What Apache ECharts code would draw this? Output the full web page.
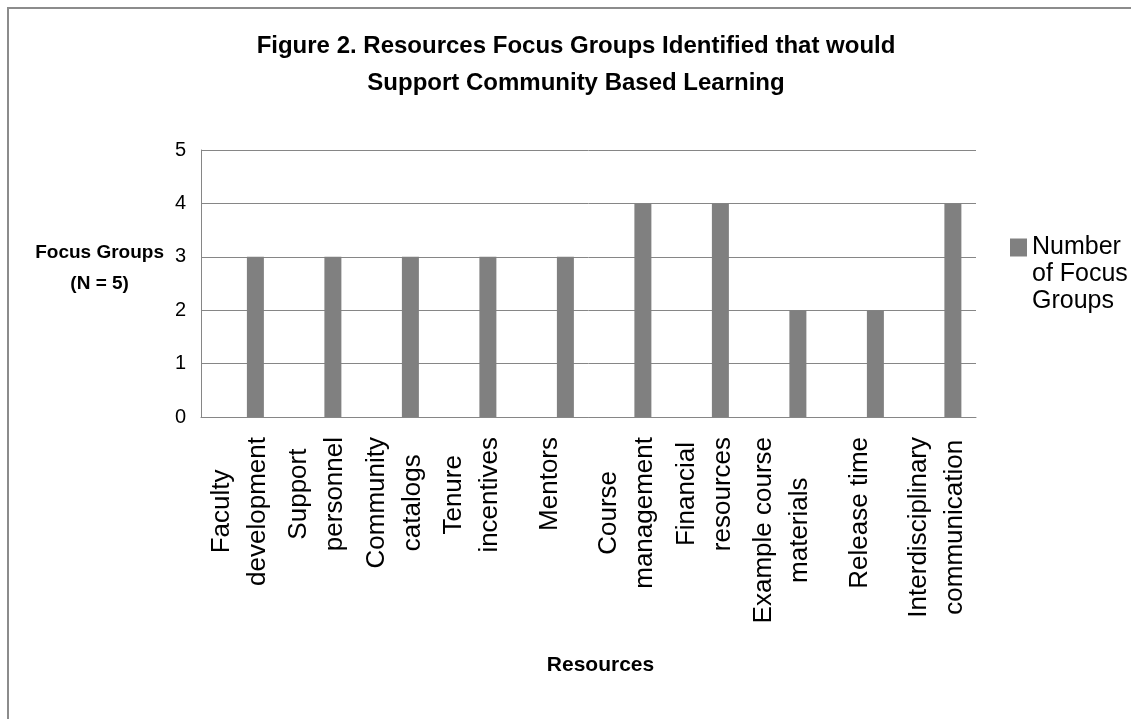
<!DOCTYPE html>
<html>
<head>
<meta charset="utf-8">
<title>Figure 2</title>
<script src="https://cdn.jsdelivr.net/npm/echarts@6/dist/echarts.min.js"></script>
<style>
  html, body { margin: 0; padding: 0; background: #fff; }
  #chart { width: 1131px; height: 719px; }
</style>
</head>
<body>
<div id="chart"></div>
<script>
// data
const categories = [
  'Faculty\ndevelopment',
  'Support\npersonnel',
  'Community\ncatalogs',
  'Tenure\nincentives',
  'Mentors',
  'Course\nmanagement',
  'Financial\nresources',
  'Example course\nmaterials',
  'Release time',
  'Interdisciplinary\ncommunication'
];
const focusGroups = [3, 3, 3, 3, 3, 4, 4, 2, 2, 4];
const emptySlot = categories.map(() => '-'); // excel left an empty slot before each bar
const seriesName = 'Number\nof Focus\nGroups';

const chart = echarts.init(document.getElementById('chart'));

const option = {
  animation: false,
  textStyle: { fontFamily: 'Liberation Sans, Arial, sans-serif', color: '#000' },
  title: {
    text: 'Figure 2. Resources Focus Groups Identified that would\nSupport Community Based Learning',
    left: 571,
    top: 23,
    textAlign: 'center',
    textStyle: {
      fontFamily: 'Liberation Sans, Arial, sans-serif',
      fontSize: 24,
      fontWeight: 'bold',
      lineHeight: 37,
      color: '#000'
    }
  },
  graphic: [{
    type: 'rect',
    shape: { x: 8, y: 8, width: 1300, height: 900 },
    style: { fill: 'none', stroke: '#8c8c8c', lineWidth: 2 },
    silent: true
  }],
  legend: {
    data: [seriesName],
    orient: 'vertical',
    left: 1005,
    top: 175,
    itemWidth: 17,
    itemHeight: 18,
    icon: 'rect',
    // two blank lines on top so the square sits beside the first line
    formatter: (name) => '\n\n' + name,
    textStyle: {
      fontSize: 25,
      lineHeight: 27,
      color: '#000'
    }
  },
  grid: {
    left: 201,
    right: 155,
    top: 150,
    bottom: 302,
    containLabel: false
  },
  xAxis: {
    type: 'category',
    data: categories,
    name: 'Resources',
    nameLocation: 'middle',
    nameGap: 238,
    nameTextStyle: {
      fontWeight: 'bold',
      fontSize: 21,
      color: '#000',
      padding: [0, 0, 0, 24]
    },
    axisLine: { lineStyle: { color: '#868686', width: 1 } },
    axisTick: { show: false },
    axisLabel: {
      interval: 0,
      rotate: 90,
      margin: 20,
      fontSize: 26,
      lineHeight: 36,
      color: '#000',
      formatter: (v) => v.split('\n').map(s => '{c|' + s + '}').join('\n'),
      rich: { c: { align: 'center', fontSize: 26, lineHeight: 36, color: '#000' } }
    }
  },
  yAxis: {
    type: 'value',
    min: 0,
    max: 5,
    interval: 1,
    name: '{n|Focus Groups}\n{n|(N = 5)}',
    nameLocation: 'middle',
    nameRotate: 0,
    nameGap: 37,
    nameTextStyle: {
      padding: [0, 0, 30, 0],
      rich: { n: { align: 'center', fontSize: 19, fontWeight: 'bold', lineHeight: 31, color: '#000' } }
    },
    axisLine: { show: true, lineStyle: { color: '#868686', width: 1 } },
    axisTick: { show: false },
    axisLabel: { fontSize: 20, margin: 15, color: '#000' },
    splitLine: { lineStyle: { color: '#868686', width: 1 } }
  },
  series: [
    {
      name: 'gap',
      type: 'bar',
      data: emptySlot,
      barWidth: 17,
      barGap: '84%',
      silent: true
    },
    {
      name: seriesName,
      type: 'bar',
      data: focusGroups,
      barWidth: 17,
      barGap: '84%',
      itemStyle: { color: '#808080' }
    }
  ]
};

chart.setOption(option);
window.addEventListener('resize', () => {
  chart.resize();
});
</script>
</body>
</html>
